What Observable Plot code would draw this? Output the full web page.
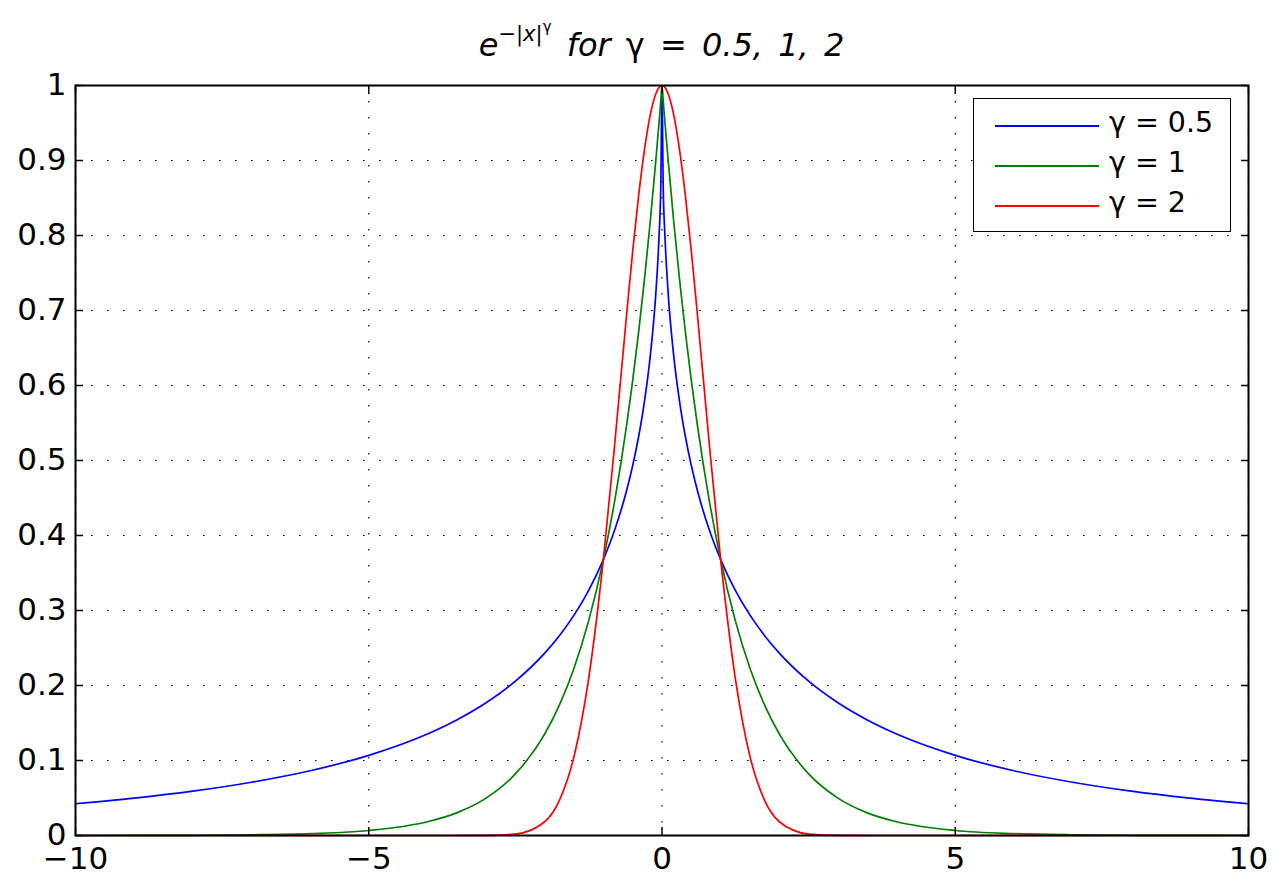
<!DOCTYPE html>
<html>
<head>
<meta charset="utf-8">
<script src="https://cdn.jsdelivr.net/npm/d3@7"></script>
<script src="https://cdn.jsdelivr.net/npm/@observablehq/plot@0.6"></script>
<style>
  html, body { margin: 0; padding: 0; background: #fff; }
  #wrap { position: relative; width: 1274px; height: 878px; font-family: "DejaVu Sans", sans-serif; }
  #title { height: 55px; box-sizing: border-box; padding-left: 49px; padding-top: 20px; text-align: center; font-size: 32px; line-height: 1; font-style: italic; color: #000; white-space: nowrap; word-spacing: 5px; }
  #title sup { font-size: 21px; vertical-align: 15px; word-spacing: 0; }
  #title sup sup { font-size: 15px; vertical-align: 9px; font-style: normal; }
  .g { font-style: normal; }
  #legend { position: absolute; left: 973px; top: 98px; width: 258px; height: 134px; box-sizing: border-box; border: 1.5px solid #000; background: #fff; }
  .row { position: absolute; left: 0; height: 40px; width: 100%; }
  .row .ln { position: absolute; left: 21px; width: 104px; top: 0; height: 1.6px; }
  .row .tx { position: absolute; left: 135px; top: -16px; font-size: 28.5px; line-height: 1; white-space: nowrap; color: #000; }
</style>
</head>
<body>
<div id="wrap">
  <div id="title">e<sup>−|x|<sup>γ</sup></sup> for <span class="g">γ</span> = 0.5, 1, 2</div>
  <div id="chart"></div>
  <div id="legend"></div>
</div>
<script>
// x sample positions
const xs = [-10,-9,-8,-7,-6,-5,-4,-3.5,-3,-2.5,-2,-1.75,-1.5,-1.25,-1,-0.8,-0.6,-0.5,-0.4,-0.3,-0.2,-0.1,-0.05,-0.02,0,0.02,0.05,0.1,0.2,0.3,0.4,0.5,0.6,0.8,1,1.25,1.5,1.75,2,2.5,3,3.5,4,5,6,7,8,9,10];
// gamma = 0.5
const yHalf = [0.0423,0.0498,0.0591,0.0710,0.0863,0.1069,0.1353,0.1540,0.1769,0.2057,0.2431,0.2664,0.2938,0.3269,0.3679,0.4089,0.4609,0.4931,0.5313,0.5783,0.6394,0.7289,0.7997,0.8681,1,0.8681,0.7997,0.7289,0.6394,0.5783,0.5313,0.4931,0.4609,0.4089,0.3679,0.3269,0.2938,0.2664,0.2431,0.2057,0.1769,0.1540,0.1353,0.1069,0.0863,0.0710,0.0591,0.0498,0.0423];
// gamma = 1
const yOne = [0.0000,0.0001,0.0003,0.0009,0.0025,0.0067,0.0183,0.0302,0.0498,0.0821,0.1353,0.1738,0.2231,0.2865,0.3679,0.4493,0.5488,0.6065,0.6703,0.7408,0.8187,0.9048,0.9512,0.9802,1,0.9802,0.9512,0.9048,0.8187,0.7408,0.6703,0.6065,0.5488,0.4493,0.3679,0.2865,0.2231,0.1738,0.1353,0.0821,0.0498,0.0302,0.0183,0.0067,0.0025,0.0009,0.0003,0.0001,0.0000];
// gamma = 2
const yTwo = [0,0,0,0,0,0,0,0,0.0001,0.0019,0.0183,0.0468,0.1054,0.2096,0.3679,0.5273,0.6977,0.7788,0.8521,0.9139,0.9608,0.9900,0.9975,0.9996,1,0.9996,0.9975,0.9900,0.9608,0.9139,0.8521,0.7788,0.6977,0.5273,0.3679,0.2096,0.1054,0.0468,0.0183,0.0019,0.0001,0,0,0,0,0,0,0,0];

const seriesNames = ["γ = 0.5", "γ = 1", "γ = 2"];
const seriesColors = ["#0000ff", "#008000", "#ff0000"];
const seriesValues = [yHalf, yOne, yTwo];

const xTicks = [-10, -5, 0, 5, 10];
const yTicks = [0, 0.1, 0.2, 0.3, 0.4, 0.5, 0.6, 0.7, 0.8, 0.9, 1];

const data = seriesNames.flatMap((name, i) => xs.map((x, j) => ({x, y: seriesValues[i][j], name})));

const fmt = d => d < 0 ? "−" + Math.abs(d) : String(d);
const dots = "1.5,14.5";
const labelFont = 31;

const chart = Plot.plot({
  width: 1274,
  height: 823,
  marginTop: 30,
  marginBottom: 43,
  marginLeft: 75,
  marginRight: 26,
  style: {fontFamily: "DejaVu Sans, sans-serif", fontSize: labelFont + "px", color: "#000", background: "#fff", overflow: "visible"},
  x: {domain: [-10, 10], ticks: xTicks},
  y: {domain: [0, 1], ticks: yTicks},
  color: {domain: seriesNames, range: seriesColors},
  marks: [
    Plot.gridX(xTicks, {stroke: "#000", strokeOpacity: 1, strokeWidth: 1.2, strokeDasharray: dots}),
    Plot.gridY(yTicks, {stroke: "#000", strokeOpacity: 1, strokeWidth: 1.2, strokeDasharray: dots}),
    Plot.line(data, {x: "x", y: "y", z: "name", stroke: "name", strokeWidth: 1.7, curve: "monotone-x"}),
    Plot.axisX(xTicks, {anchor: "bottom", tickSize: 0, tickPadding: 11, tickFormat: fmt, label: null, fontSize: labelFont}),
    Plot.axisY(yTicks, {anchor: "left", tickSize: 0, tickPadding: 9, tickFormat: fmt, label: null, fontSize: labelFont}),
    Plot.axisX(xTicks, {anchor: "bottom", tickSize: 8, dy: -8, tickFormat: () => "", label: null, strokeWidth: 1.5}),
    Plot.axisX(xTicks, {anchor: "top", tickSize: 8, dy: 8, tickFormat: () => "", label: null, strokeWidth: 1.5}),
    Plot.axisY(yTicks, {anchor: "left", tickSize: 8, dx: 8, tickFormat: () => "", label: null, strokeWidth: 1.5}),
    Plot.axisY(yTicks, {anchor: "right", tickSize: 8, dx: -8, tickFormat: () => "", label: null, strokeWidth: 1.5}),
    Plot.frame({stroke: "#000", strokeWidth: 2})
  ]
});
document.getElementById("chart").appendChild(chart);

const legend = document.getElementById("legend");
seriesNames.forEach((name, i) => {
  const row = document.createElement("div");
  row.className = "row";
  row.style.top = (26 + 40 * i) + "px";
  const ln = document.createElement("div");
  ln.className = "ln";
  ln.style.background = seriesColors[i];
  const tx = document.createElement("div");
  tx.className = "tx";
  tx.textContent = name;
  row.appendChild(ln);
  row.appendChild(tx);
  legend.appendChild(row);
});
</script>
</body>
</html>
